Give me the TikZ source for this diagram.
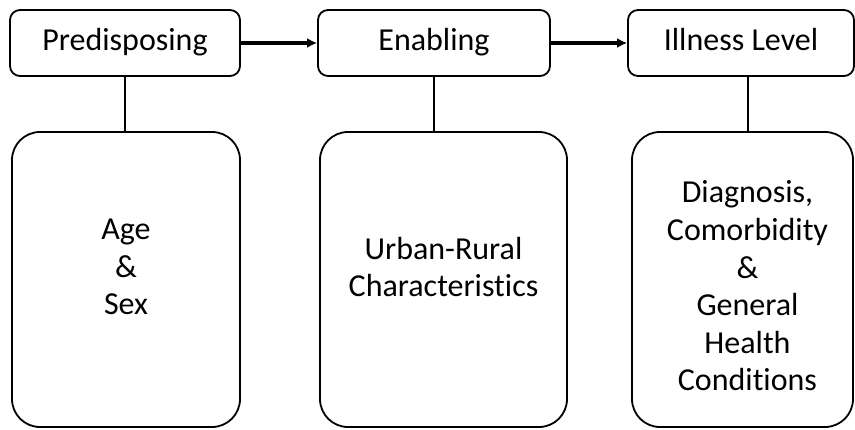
\documentclass[tikz,border=0pt]{standalone}
\usepackage{fontspec}
\setmainfont[RawFeature={-liga;-clig;-calt;-dlig;-rlig}]{Carlito}
\usepackage{tikz}
\usetikzlibrary{positioning,arrows.meta}
\tikzset{every picture/.style={line width=0.9pt}}
\tikzset{
  headbox/.style={draw, rounded corners=5pt, minimum height=33pt, inner sep=0pt,
    text height=11pt, text depth=3.5pt, font=\fontsize{16}{19}\selectfont},
  factorbox/.style={draw, rounded corners=14pt, minimum height=147.5pt, inner sep=0pt},
  factortext/.style={align=center, inner sep=0pt, font=\fontsize{16}{18.8}\selectfont},
  flow/.style={line width=1.8pt, -{Latex[length=5pt,width=5pt]}},
}

\begin{document}
\begin{tikzpicture}[x=0.5pt,y=-0.5pt]
\useasboundingbox (0,0) rectangle (855,429);
\node[headbox, minimum width=115pt] (pre) at (125,43) {Predisposing};
\node[headbox, minimum width=116pt] (ena) at (434,43) {Enabling};
\node[headbox, minimum width=113pt] (ill) at (741,43) {Illness Level};
%
\node[factorbox, minimum width=114pt] (age) at (126,279.5) {};
\node[factorbox, minimum width=123.5pt] (urb) at (443.5,279.5) {};
\node[factorbox, minimum width=110.5pt] (dia) at (742.5,279.5) {};
%
\node[factortext] (agetxt) at (126,267) {Age\\\&\\Sex};
\node[factortext] (urbtxt) at (443.5,267) {Urban-Rural\\Characteristics};
\node[factortext] (diatxt) at (747.5,286) {Diagnosis,\\Comorbidity\\\&\\General\\Health\\Conditions};
%
\draw[flow] (pre) -- (ena);
\draw[flow] (ena) -- (ill);
\draw (pre.south) -- (pre.south |- age.north);
\draw (ena.south) -- (ena.south |- urb.north);
\draw ([xshift=3.5pt]ill.south) -- ([xshift=3.5pt]ill.south |- dia.north);
\end{tikzpicture}
\end{document}
